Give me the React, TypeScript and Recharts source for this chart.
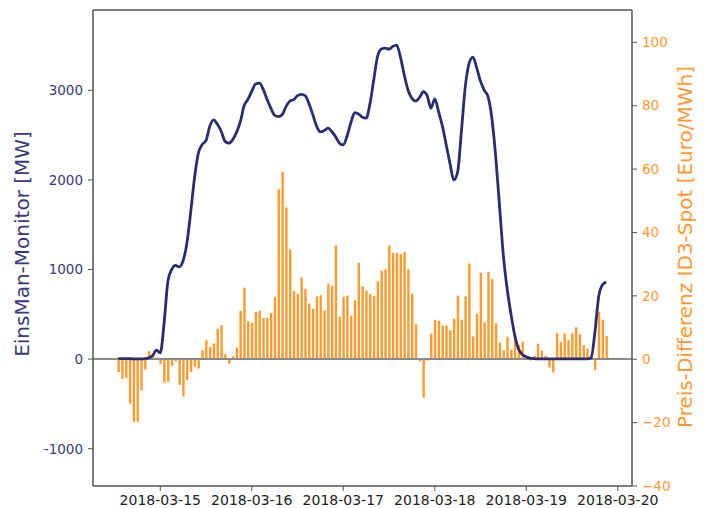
import React from 'react';
import { ComposedChart, Bar, Line, XAxis, YAxis, ReferenceLine, Label } from 'recharts';

// hourly samples, first one at 2018-03-14 13:00 (hours counted from 2018-03-14 00:00)
const START_HOUR = 13;

const einsmanMW = [
  5, 5, 5, 5, 3, 3, 3, 5, 15, 40, 100,
  70, 400, 870, 1000, 1045, 1030, 1100, 1300, 1650, 2030, 2300, 2395, 2440, 2600, 2670, 2620, 2540, 2430, 2410, 2450, 2530, 2650, 2830, 2900,
  2990, 3070, 3080, 3010, 2900, 2800, 2720, 2707, 2730, 2820, 2880, 2895, 2940, 2955, 2940, 2850, 2730, 2600, 2535, 2550, 2578, 2540, 2480, 2410,
  2390, 2490, 2640, 2750, 2735, 2700, 2690, 2850, 3120, 3380, 3460, 3471, 3460, 3490, 3505, 3370, 3170, 3000, 2910, 2880, 2920, 2985, 2940, 2800,
  2905, 2760, 2600, 2390, 2180, 2000, 2090, 2550, 3040, 3300, 3370, 3250, 3100, 3000, 2925, 2680, 2250, 1700, 1150, 780, 500, 260, 110, 50,
  25, 10, 5, 3, 2, 2, 2, 2, 2, 2, 2, 2, 2, 2, 2, 2, 2, 15, 300, 700, 830, 860,
];

const preisDiff = [
  -4.0, -6.2, -5.9, -14.0, -19.8, -19.8, -9.8, -3.2, 2.6, 1.8, 0.5,
  -1.5, -7.4, -7.1, -2.1, -0.6, -8.1, -11.8, -6.6, -4.0, -2.4, -2.9, 2.8, 6.0, 3.9, 5.0, 9.6, 10.7, 1.6, -1.4, 0.9, 3.7, 15.3, 22.6, 12.0,
  11.5, 15.0, 15.3, 13.0, 13.0, 14.6, 19.7, 53.6, 59.2, 47.9, 34.7, 21.5, 20.6, 25.8, 22.2, 17.6, 15.9, 19.8, 20.2, 15.4, 23.8, 23.2, 35.9, 13.5,
  19.7, 20.1, 13.8, 18.6, 30.4, 23.0, 21.7, 20.6, 19.9, 24.6, 27.9, 28.4, 35.9, 33.6, 33.6, 33.2, 33.9, 28.4, 20.7, 11.1, -0.7, -12.1, -0.4, 8.1,
  12.4, 12.1, 10.6, 10.7, 9.2, 12.8, 20.1, 12.5, 19.8, 30.2, 7.2, 14.4, 27.3, 11.7, 27.6, 25.3, 11.4, 5.2, 2.8, 7.1, 3.1, 6.8, 4.5, 5.5,
  0.3, -0.4, 1.0, 4.9, 2.7, 1.1, -2.6, -4.2, 8.3, 5.4, 8.1, 6.0, 8.2, 10.1, 7.9, 4.4, 3.4, 1.5, -3.5, 15.0, 12.5, 7.3,
];

const dayTicks = [24, 48, 72, 96, 120, 144];
const dayLabels = ['2018-03-15', '2018-03-16', '2018-03-17', '2018-03-18', '2018-03-19', '2018-03-20'];
const leftTicks = [-1000, 0, 1000, 2000, 3000];
const rightTicks = [-40, -20, 0, 20, 40, 60, 80, 100];

const X_DOMAIN: [number, number] = [6.35, 147.73];
const LEFT_DOMAIN: [number, number] = [-1416, 3896];
const RIGHT_DOMAIN: [number, number] = [-40, 110.2];

const data = einsmanMW.map((v, i) => ({ h: START_HOUR + i, mw: v, pd: preisDiff[i] }));

const NAVY = '#2c2c6e';
const NAVY_TEXT = '#3a3a7c';
const ORANGE = '#ff9a2e';
const ORANGE_TEXT = '#ff9933';
const SPINE = '#555555';
const FONT = 'DejaVu Sans';

export default function App() {
  return (
    <div style={{ position: 'absolute', left: 0, top: 0 }}>
      <ComposedChart
        width={707}
        height={508}
        data={data}
        margin={{ top: 10, right: 0, bottom: 0, left: 0 }}
      >
        <XAxis
          dataKey="h"
          type="number"
          domain={X_DOMAIN}
          allowDataOverflow
          ticks={dayTicks}
          tickFormatter={(v: number) => dayLabels[dayTicks.indexOf(v)] ?? ''}
          height={22}
          tickSize={5}
          tickMargin={4}
          axisLine={{ stroke: SPINE, strokeWidth: 1.5 }}
          tickLine={{ stroke: SPINE }}
          tick={{ fill: '#222', fontSize: 14, fontFamily: FONT }}
        />
        <YAxis
          yAxisId="left"
          orientation="left"
          type="number"
          domain={LEFT_DOMAIN}
          allowDataOverflow
          ticks={leftTicks}
          width={93}
          tickSize={5}
          tickMargin={5}
          axisLine={{ stroke: SPINE, strokeWidth: 1.5 }}
          tickLine={{ stroke: SPINE }}
          tick={{ fill: NAVY_TEXT, fontSize: 13.5, fontFamily: FONT }}
        >
          <Label
            content={() => (
              <text
                x={22}
                y={244}
                transform="rotate(-90 22 244)"
                textAnchor="middle"
                dominantBaseline="central"
                fill={NAVY_TEXT}
                fontSize={20}
                fontFamily={FONT}
              >
                EinsMan-Monitor [MW]
              </text>
            )}
          />
        </YAxis>
        <YAxis
          yAxisId="right"
          orientation="right"
          type="number"
          domain={RIGHT_DOMAIN}
          allowDataOverflow
          ticks={rightTicks}
          width={75}
          tickSize={5}
          tickMargin={5}
          tickFormatter={(v: number) => (v < 0 ? '\u2212' + Math.abs(v) : String(v))}
          axisLine={{ stroke: SPINE, strokeWidth: 1.5 }}
          tickLine={{ stroke: SPINE }}
          tick={{ fill: ORANGE_TEXT, fontSize: 13.5, fontFamily: FONT }}
        >
          <Label
            content={() => (
              <text
                x={685}
                y={247}
                transform="rotate(-90 685 247)"
                textAnchor="middle"
                dominantBaseline="central"
                fill={ORANGE_TEXT}
                fontSize={20}
                fontFamily={FONT}
              >
                Preis-Differenz ID3-Spot [Euro/MWh]
              </text>
            )}
          />
        </YAxis>
        <Bar
          yAxisId="right"
          dataKey="pd"
          fill={ORANGE}
          barSize={2.4}
          isAnimationActive={false}
        />
        <ReferenceLine yAxisId="left" y={0} stroke="#8a8a8a" strokeWidth={2} />
        <ReferenceLine yAxisId="left" y={LEFT_DOMAIN[1]} stroke={SPINE} strokeWidth={1.5} />
        <Line
          yAxisId="left"
          dataKey="mw"
          type="monotone"
          stroke={NAVY}
          strokeWidth={2.8}
          dot={false}
          activeDot={false}
          isAnimationActive={false}
        />
      </ComposedChart>
    </div>
  );
}
